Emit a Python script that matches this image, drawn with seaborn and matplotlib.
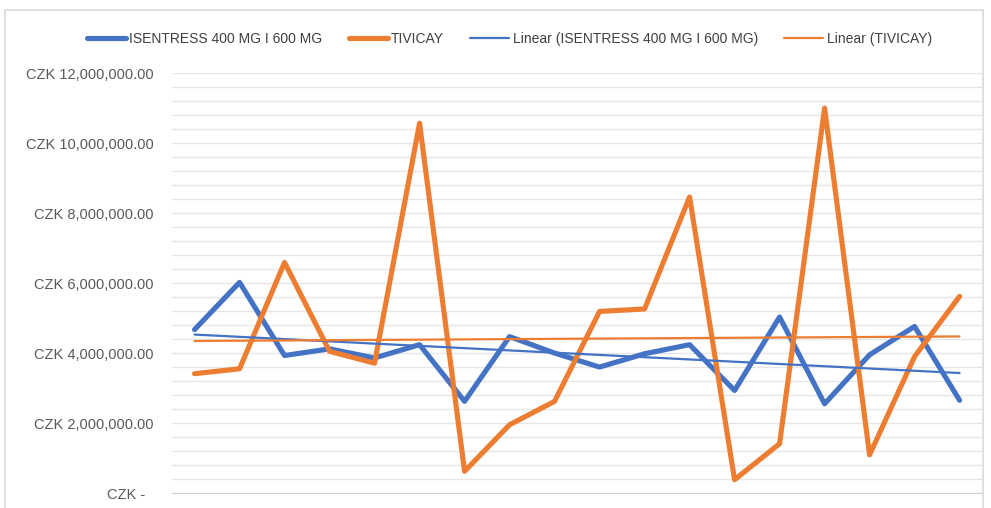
import numpy as np
import pandas as pd
import matplotlib
matplotlib.use("Agg")
import matplotlib.pyplot as plt
import seaborn as sns
from matplotlib.ticker import MultipleLocator, FuncFormatter
from matplotlib.patches import Rectangle

# values (CZK)
isentress = [4.67, 6.02, 3.93, 4.12, 3.86, 4.24, 2.62, 4.47, 4.00,
             3.60, 3.98, 4.24, 2.93, 5.03, 2.55, 3.95, 4.76, 2.65]
tivicay = [3.41, 3.55, 6.59, 4.05, 3.71, 10.57, 0.62, 1.95, 2.62,
           5.19, 5.26, 8.46, 0.38, 1.41, 11.00, 1.09, 3.90, 5.62]
periods = list(range(len(isentress)))

name_a = "ISENTRESS 400 MG I 600 MG"
name_b = "TIVICAY"
blue = "#4472C4"
orange = "#ED7D31"

df = pd.DataFrame({
    "period": periods * 2,
    "value": [v * 1e6 for v in isentress] + [v * 1e6 for v in tivicay],
    "drug": [name_a] * len(isentress) + [name_b] * len(tivicay),
})

sns.set_style("white")
plt.rcParams["font.family"] = ["Liberation Sans", "DejaVu Sans"]

fig = plt.figure(figsize=(9.91, 5.08), dpi=100)
ax = fig.add_axes([0.1736, 0.0295, 0.8174, 0.8265])

sns.lineplot(data=df, x="period", y="value", hue="drug",
             palette={name_a: blue, name_b: orange}, linewidth=3.7,
             ax=ax, legend=False, zorder=3)

a = df[df.drug == name_a]
b = df[df.drug == name_b]
sns.regplot(x=a["period"], y=a["value"], scatter=False, ci=None, ax=ax,
            line_kws={"color": blue, "lw": 1.6, "zorder": 4})
sns.regplot(x=b["period"], y=b["value"], scatter=False, ci=None, ax=ax,
            line_kws={"color": orange, "lw": 1.6, "zorder": 4})

ax.set_xlim(-0.5, len(periods) - 0.5)
ax.set_ylim(0, 12e6)
ax.yaxis.set_major_locator(MultipleLocator(2e6))
ax.yaxis.set_minor_locator(MultipleLocator(4e5))
ax.yaxis.set_major_formatter(FuncFormatter(
    lambda v, p: "CZK -  " if v == 0 else f"CZK {v:,.2f}"))
ax.grid(axis="y", which="both", color="#E6E6E6", lw=1.0, zorder=0)
ax.set_xticks([])
ax.set_xlabel("")
ax.set_ylabel("")
ax.tick_params(axis="y", which="both", length=0, pad=13.5,
               labelsize=10.5, labelcolor="#595959")
for s in ["top", "left", "right"]:
    ax.spines[s].set_visible(False)
ax.spines["bottom"].set_color("#D0D0D0")

handles = [plt.Line2D([], [], color=blue, lw=3.7),
           plt.Line2D([], [], color=orange, lw=3.7),
           plt.Line2D([], [], color=blue, lw=1.6),
           plt.Line2D([], [], color=orange, lw=1.6)]
labels = [name_a, name_b, f"Linear ({name_a})", f"Linear ({name_b})"]
fig.legend(handles, labels, loc="center", bbox_to_anchor=(0.514, 0.924),
           ncol=4, frameon=False, handlelength=2.8, columnspacing=1.9,
           handletextpad=0.25, fontsize=10, labelcolor="#404040")

fig.patches.append(Rectangle((5 / 991, -0.05), 978 / 991, 1.0 - 10 / 508 + 0.05,
                             transform=fig.transFigure, fill=False,
                             edgecolor="#D9D9D9", lw=1.2))

fig.savefig("out.png", dpi=100)
